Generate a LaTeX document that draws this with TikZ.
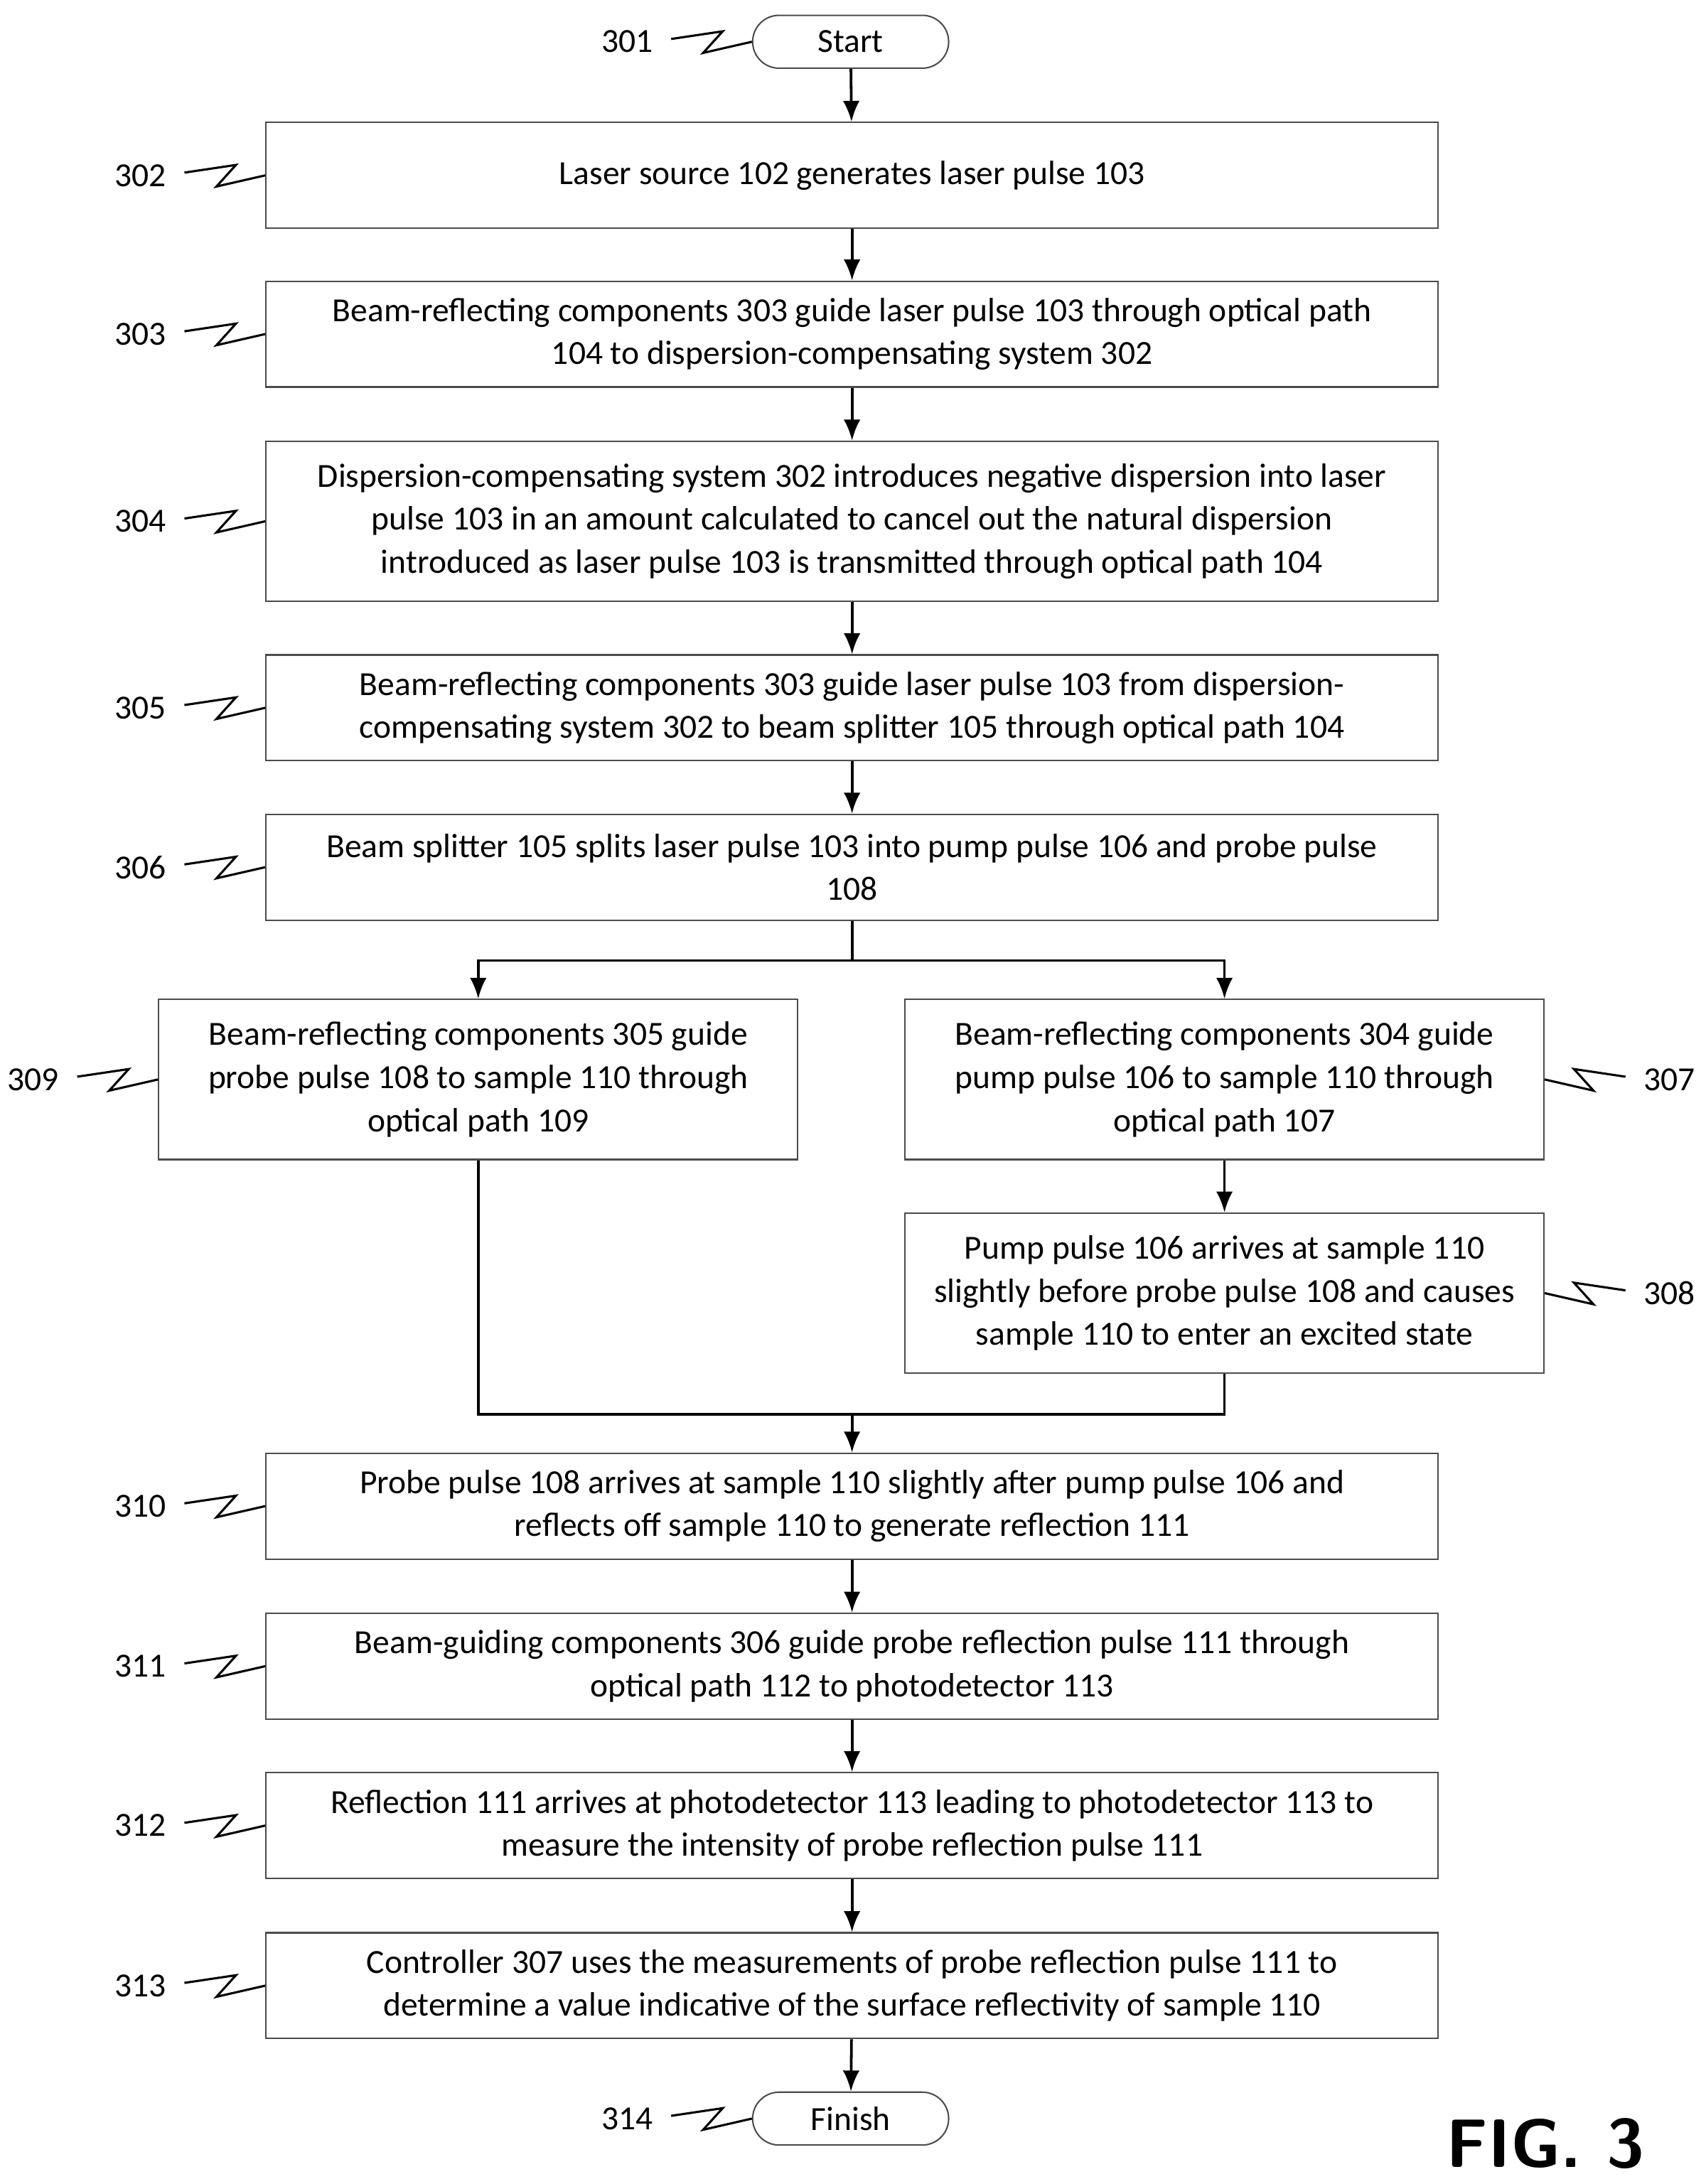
\documentclass[tikz,border=0pt]{standalone}
\usepackage{fontspec}
\setmainfont{Carlito}
\usetikzlibrary{arrows.meta,shapes.misc}

\tikzset{
    stepbox/.style={draw=black!70, line width=0.6pt, minimum height=1.52cm, align=center,
        font=\fontsize{13.8}{17.6}\selectfont},
    wide/.style={stepbox, minimum width=16.84cm},
    half/.style={stepbox, minimum width=9.18cm},
    term/.style={draw=black!70, line width=0.6pt, rounded rectangle, minimum width=3.05cm,
        minimum height=0.76cm, font=\fontsize{13.8}{17.6}\selectfont},
    flow/.style={-{Latex[length=3mm,width=2.4mm]}, line width=1.1pt},
    tag/.style={font=\fontsize{13.8}{17.6}\selectfont},
}
% lightning leader from a box side to its reference number
\newcommand{\leftref}[2]{%
    \draw[line width=0.9pt] (#1) ++(-1.16,0.04) -- ++(0.74,0.11) -- ++(-0.28,-0.31) -- (#1);
    \node[tag, anchor=east] at ([xshift=-1.3cm]#1) {#2};}
\newcommand{\rightref}[2]{%
    \draw[line width=0.9pt] (#1) ++(1.16,0.04) -- ++(-0.74,0.11) -- ++(0.28,-0.31) -- (#1);
    \node[tag, anchor=west] at ([xshift=1.3cm]#1) {#2};}

\begin{document}
\begin{tikzpicture}
    \useasboundingbox (0,0) rectangle (24.5,-31.38);

    \node[term] (start) at (12.22,-0.6) {Start};
    \node[wide] (s302) at (12.24,-2.52) {Laser source 102 generates laser pulse 103};
    \node[wide] (s303) at (12.24,-4.8) {Beam-reflecting components 303 guide laser pulse 103 through optical path\\104 to dispersion-compensating system 302};
    \node[wide, minimum height=2.3cm] (s304) at (12.24,-7.49) {Dispersion-compensating system 302 introduces negative dispersion into laser\\pulse 103 in an amount calculated to cancel out the natural dispersion\\introduced as laser pulse 103 is transmitted through optical path 104};
    \node[wide] (s305) at (12.24,-10.17) {Beam-reflecting components 303 guide laser pulse 103 from dispersion-\\compensating system 302 to beam splitter 105 through optical path 104};
    \node[wide] (s306) at (12.24,-12.46) {Beam splitter 105 splits laser pulse 103 into pump pulse 106 and probe pulse\\108};
    \node[half, minimum height=2.3cm] (s309) at (6.87,-15.51) {Beam-reflecting components 305 guide\\probe pulse 108 to sample 110 through\\optical path 109};
    \node[half, minimum height=2.3cm] (s307) at (17.59,-15.51) {Beam-reflecting components 304 guide\\pump pulse 106 to sample 110 through\\optical path 107};
    \node[half, minimum height=2.3cm] (s308) at (17.59,-18.58) {Pump pulse 106 arrives at sample 110\\slightly before probe pulse 108 and causes\\sample 110 to enter an excited state};
    \node[wide] (s310) at (12.24,-21.64) {Probe pulse 108 arrives at sample 110 slightly after pump pulse 106 and\\reflects off sample 110 to generate reflection 111};
    \node[wide] (s311) at (12.24,-23.94) {Beam-guiding components 306 guide probe reflection pulse 111 through\\optical path 112 to photodetector 113};
    \node[wide] (s312) at (12.24,-26.23) {Reflection 111 arrives at photodetector 113 leading to photodetector 113 to\\measure the intensity of probe reflection pulse 111};
    \node[wide] (s313) at (12.24,-28.53) {Controller 307 uses the measurements of probe reflection pulse 111 to\\determine a value indicative of the surface reflectivity of sample 110};
    \node[term] (finish) at (12.22,-30.44) {Finish};
    \node[font=\sffamily\bfseries\fontsize{28}{32}\selectfont] (fig) at (22.2,-30.8) {FIG. 3};

    % main chain
    \draw[flow] (start) -- (s302);
    \draw[flow] (s302) -- (s303);
    \draw[flow] (s303) -- (s304);
    \draw[flow] (s304) -- (s305);
    \draw[flow] (s305) -- (s306);
    \coordinate (split) at (12.24,-13.8);
    \draw[flow] (s306.south) -- (split) -| (s309.north);
    \draw[flow] (split) -| (s307.north);
    \draw[flow] (s307) -- (s308);
    \coordinate (join) at (12.24,-20.32);
    \draw[line width=1.1pt] (s309.south) |- (join);
    \draw[line width=1.1pt] (s308.south) |- (join);
    \draw[flow] (join) -- (s310.north);
    \draw[flow] (s310) -- (s311);
    \draw[flow] (s311) -- (s312);
    \draw[flow] (s312) -- (s313);
    \draw[flow] (s313) -- (finish);

    % reference numbers
    \leftref{start.west}{301}
    \leftref{s302.west}{302}
    \leftref{s303.west}{303}
    \leftref{s304.west}{304}
    \leftref{s305.west}{305}
    \leftref{s306.west}{306}
    \leftref{s309.west}{309}
    \rightref{s307.east}{307}
    \rightref{s308.east}{308}
    \leftref{s310.west}{310}
    \leftref{s311.west}{311}
    \leftref{s312.west}{312}
    \leftref{s313.west}{313}
    \leftref{finish.west}{314}
\end{tikzpicture}
\end{document}
